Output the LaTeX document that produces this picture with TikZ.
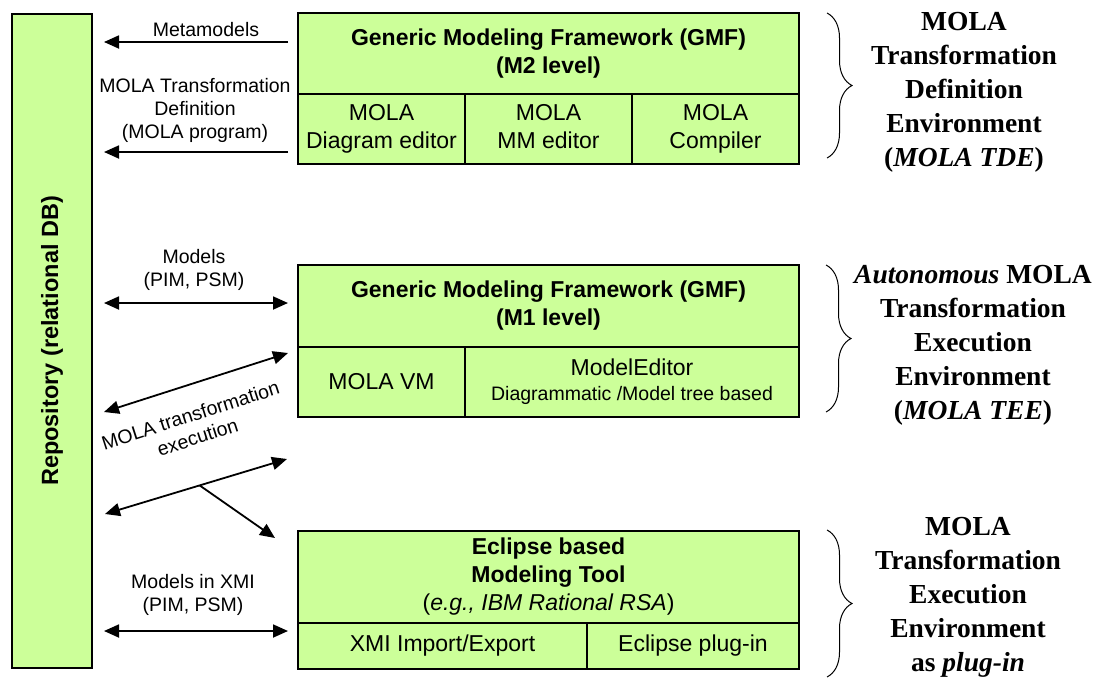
\documentclass[tikz,border=0pt]{standalone}
\usepackage{fontspec}
\setmainfont{Liberation Serif}
\setsansfont{Liberation Sans}
\usetikzlibrary{arrows.meta,decorations.pathreplacing,calc}
\definecolor{boxgreen}{HTML}{CCFF99}

\begin{document}
\begin{tikzpicture}[x=1pt,y=-1pt,
  cell/.style={draw=black, line width=1.2pt, fill=boxgreen, anchor=north west,
    inner sep=0pt, outer sep=0pt, align=center,
    font=\sffamily\fontsize{23}{28}\selectfont},
  lbl/.style={align=center, inner sep=0pt, font=\sffamily\fontsize{19.5}{23}\selectfont},
  side/.style={align=center, inner sep=0pt, font=\rmfamily\bfseries\fontsize{27.5}{34}\selectfont},
  arr/.style={line width=1.8pt, -{Triangle[length=15pt,width=13pt]}},
  dbl/.style={line width=1.8pt, {Triangle[length=15pt,width=13pt]}-{Triangle[length=15pt,width=13pt]}},
  bracket/.style={line width=1pt, decorate, decoration={brace, amplitude=25pt}}]

\useasboundingbox (0,0) rectangle (1102,678);

% repository column
\node[cell, minimum width=80pt, minimum height=654pt] (repo) at (12,14) {};
\node[rotate=90, font=\sffamily\bfseries\fontsize{23.5}{28}\selectfont] (repotext) at (repo.center) {Repository (relational DB)};

% GMF, M2 level
\node[cell, minimum width=501pt, minimum height=81pt] (m2h) at (298,13)
  {\bfseries Generic Modeling Framework (GMF)\\\bfseries (M2 level)};
\node[cell, minimum width=167pt, minimum height=70pt] (m2a) at (298,94) {MOLA\strut\\Diagram editor\strut};
\node[cell, minimum width=167pt, minimum height=70pt] (m2b) at (465,94) {MOLA\strut\\MM editor\strut};
\node[cell, minimum width=167pt, minimum height=70pt] (m2c) at (632,94) {MOLA\strut\\Compiler\strut};

% GMF, M1 level
\node[cell, minimum width=501pt, minimum height=82pt] (m1h) at (298,265)
  {\bfseries Generic Modeling Framework (GMF)\\\bfseries (M1 level)};
\node[cell, minimum width=167pt, minimum height=70pt] (m1a) at (298,347) {MOLA VM};
\node[cell, minimum width=334pt, minimum height=70pt] (m1b) at (465,347)
  {ModelEditor\\[-3pt]{\fontsize{19.5}{23}\selectfont Diagrammatic /Model tree based}};

% Eclipse based tool
\node[cell, minimum width=501pt, minimum height=92pt] (eh) at (298,531)
  {\bfseries Eclipse based\\\bfseries Modeling Tool\\(\textit{e.g., IBM Rational RSA})};
\node[cell, minimum width=289pt, minimum height=46pt] (ea) at (298,623) {XMI Import/Export};
\node[cell, minimum width=212pt, minimum height=46pt] (eb) at (587,623) {Eclipse plug-in};

% connector labels
\node[lbl] (lmeta) at (206,30) {Metamodels};
\node[lbl] (ldef) at (195,110) {MOLA Transformation\\Definition\\(MOLA program)};
\node[lbl] (lmod) at (194,270) {Models\\(PIM, PSM)};
\node[lbl, rotate=17.8] (lexe) at (194,426) {MOLA transformation\\execution};
\node[lbl] (lxmi) at (193,595) {Models in XMI\\(PIM, PSM)};

% connectors
\draw[arr, shorten <=10pt, shorten >=12pt] (m2h.west |- 0,42) -- (repo.east |- 0,42);
\draw[arr, shorten <=10pt, shorten >=12pt] (m2a.west |- 0,152) -- (repo.east |- 0,152);
\draw[dbl, shorten <=12pt, shorten >=10pt] (repo.east |- 0,303) -- (m1h.west |- 0,303);
\draw[dbl, shorten <=12pt, shorten >=10pt] (repo.east |- 0,631) -- (ea.west |- 0,631);

\coordinate (x1a) at (104,412);
\coordinate (x1b) at (288,353);
\draw[dbl] (x1a) -- (x1b);

\coordinate (x2a) at (105,514);
\coordinate (x2b) at (287,459);
\draw[dbl] (x2a) -- (x2b);
\coordinate (fork) at ($(x2a)!0.52!(x2b)$);
\coordinate (forkend) at ($(eh.north west)+(-23,7)$);
\draw[arr] (fork) -- (forkend);

% environments
\draw[bracket] (827,13) -- (827,158);
\draw[bracket] (826,265) -- (826,412);
\draw[bracket] (827,530) -- (827,677);

\node[side] (tde) at (964,92) {MOLA\\Transformation\\Definition\\Environment\\(\textit{MOLA TDE})};
\node[side] (tee) at (973,345) {\textit{Autonomous} MOLA\\Transformation\\Execution\\Environment\\(\textit{MOLA TEE})};
\node[side] (plg) at (968,597.5) {MOLA\\Transformation\\Execution\\Environment\\as \textit{plug-in}};
\end{tikzpicture}
\end{document}
